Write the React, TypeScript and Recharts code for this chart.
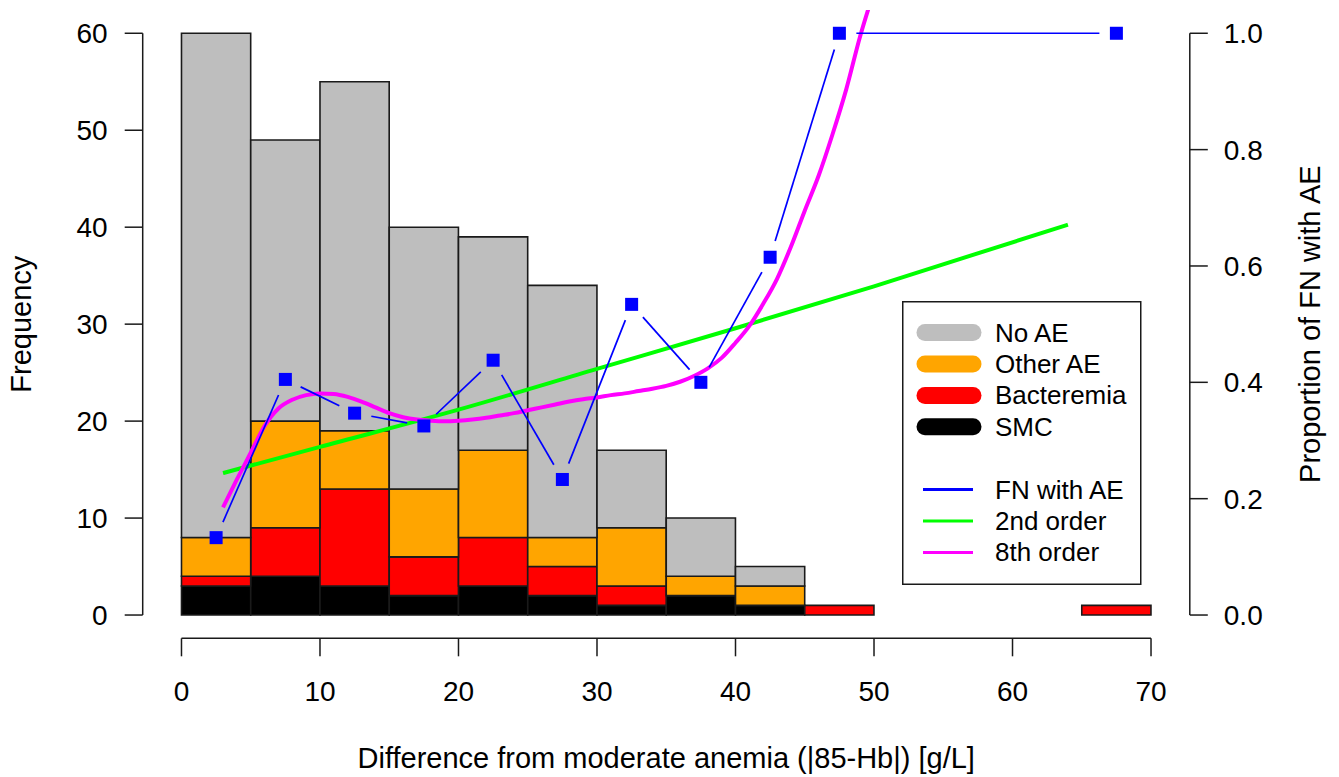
import React from "react";
import {
  Bar,
  ComposedChart,
  Label,
  Legend,
  Line,
  ReferenceLine,
  Scatter,
  XAxis,
  YAxis,
} from "recharts";

// Histogram bins are 5 g/L wide; each bin is keyed by its midpoint.
const binMids = [2.5, 7.5, 12.5, 17.5, 22.5, 27.5, 32.5, 37.5, 42.5, 47.5, 52.5, 57.5, 62.5, 67.5];
const smc = [3, 4, 3, 2, 3, 2, 1, 2, 1, 0, 0, 0, 0, 0];
const bacteremia = [1, 5, 10, 4, 5, 3, 2, 0, 0, 1, 0, 0, 0, 1];
const otherAE = [4, 11, 6, 7, 9, 3, 6, 2, 2, 0, 0, 0, 0, 0];
const noAE = [52, 29, 36, 27, 22, 26, 8, 6, 2, 0, 0, 0, 0, 0];

// Proportion of FN episodes with an adverse event, per non-empty bin.
const fnX = [2.5, 7.5, 12.5, 17.5, 22.5, 27.5, 32.5, 37.5, 42.5, 47.5, 67.5];
const fnProportion = [0.133, 0.405, 0.347, 0.325, 0.438, 0.233, 0.534, 0.4, 0.615, 1.0, 1.0];

// Fitted curves.
const quadX = [3, 10, 20, 30, 40, 50, 64];
const quadFit = [0.244, 0.289, 0.353, 0.423, 0.493, 0.565, 0.671];

const octX = [
  3, 4, 5, 6, 7, 8, 9, 10, 11, 12, 13, 14, 15, 16, 17, 18, 19, 20, 21, 22, 23, 24, 25,
  26, 27, 28, 29, 30, 31, 32, 33, 34, 35, 36, 37, 38, 39, 40, 41, 42, 43, 44, 45, 46,
  47, 48, 49, 49.7,
];
const octFit = [
  0.185, 0.233, 0.279, 0.325, 0.355, 0.37, 0.378, 0.381, 0.38, 0.375, 0.367, 0.357,
  0.347, 0.34, 0.336, 0.334, 0.333, 0.334, 0.336, 0.339, 0.343, 0.347, 0.352, 0.357,
  0.362, 0.367, 0.371, 0.374, 0.378, 0.381, 0.385, 0.389, 0.394, 0.401, 0.411, 0.424,
  0.442, 0.468, 0.497, 0.535, 0.578, 0.633, 0.695, 0.755, 0.826, 0.904, 0.995, 1.05,
];

const xTicks = [0, 10, 20, 30, 40, 50, 60, 70];
const freqTicks = [0, 10, 20, 30, 40, 50, 60];
const propTicks = [0, 0.2, 0.4, 0.6, 0.8, 1.0];

const fillNames = ["No AE", "Other AE", "Bacteremia", "SMC"];
const lineNames = ["FN with AE", "2nd order", "8th order"];

const COLORS = {
  noAE: "#bebebe",
  otherAE: "#ffa500",
  bacteremia: "#ff0000",
  smc: "#000000",
  fn: "#0000ff",
  quad: "#00ff00",
  oct: "#ff00ff",
  ink: "#1a1a1a",
};
const fillColors = [COLORS.noAE, COLORS.otherAE, COLORS.bacteremia, COLORS.smc];
const lineColors = [COLORS.fn, COLORS.quad, COLORS.oct];

const FONT = "'Liberation Sans', Arial, Helvetica, sans-serif";
const X_DOMAIN: [number, number] = [-2.8, 72.8];
const FREQ_DOMAIN: [number, number] = [-2.4, 62.4];
const PROP_DOMAIN: [number, number] = [-0.04, 1.04];
const GAP = 17; // R type="b": segments stop short of each point

const bins = binMids.map((mid, i) => ({
  mid,
  smc: smc[i],
  bacteremia: bacteremia[i],
  otherAE: otherAE[i],
  noAE: noAE[i],
}));
const fnData = fnX.map((x, i) => ({ x, y: fnProportion[i] }));
const quadData = quadX.map((x, i) => ({ x, y: quadFit[i] }));
const octData = octX.map((x, i) => ({ x, y: octFit[i] }));

function GappedLine(props: any) {
  const pts: { x: number; y: number }[] = props.points || [];
  const segs: React.ReactNode[] = [];
  for (let i = 1; i < pts.length; i++) {
    const a = pts[i - 1];
    const b = pts[i];
    const dx = b.x - a.x;
    const dy = b.y - a.y;
    const len = Math.hypot(dx, dy);
    if (len <= 2 * GAP) continue;
    const ux = dx / len;
    const uy = dy / len;
    segs.push(
      <line
        key={i}
        x1={a.x + ux * GAP}
        y1={a.y + uy * GAP}
        x2={b.x - ux * GAP}
        y2={b.y - uy * GAP}
        stroke={COLORS.fn}
        strokeWidth={1.7}
      />
    );
  }
  return <g>{segs}</g>;
}

function Square(props: any) {
  const { cx, cy } = props;
  if (cx == null || cy == null) return <g />;
  return <rect x={cx - 6.5} y={cy - 6.5} width={13} height={13} fill={COLORS.fn} />;
}

const titleStyle = { fontSize: 29, fontFamily: FONT, fill: "#000" };

function XTitle(props: any) {
  const vb = props.viewBox || { x: 142.7, y: 638.3, width: 1047.1 };
  return (
    <text x={vb.x + vb.width / 2} y={vb.y + 129.7} textAnchor="middle" style={titleStyle}>
      Difference from moderate anemia (|85-Hb|) [g/L]
    </text>
  );
}

function LeftTitle(props: any) {
  const vb = props.viewBox || { x: 0, y: 10, height: 628.3 };
  const x = vb.x + 31;
  const y = vb.y + vb.height / 2;
  return (
    <text x={x} y={y} transform={`rotate(-90 ${x} ${y})`} textAnchor="middle" style={titleStyle}>
      Frequency
    </text>
  );
}

function RightTitle(props: any) {
  const vb = props.viewBox || { x: 1189.8, y: 10, height: 628.3 };
  const x = vb.x + 130;
  const y = vb.y + vb.height / 2;
  return (
    <text x={x} y={y} transform={`rotate(-90 ${x} ${y})`} textAnchor="middle" style={titleStyle}>
      Proportion of FN with AE
    </text>
  );
}

function LegendBox() {
  const rowY = (i: number) => 31.6 + i * 31.4;
  return (
    <svg width={240} height={285} style={{ display: "block", fontFamily: FONT }}>
      <rect x={0.75} y={0.75} width={238} height={282.5} fill="#fff" stroke={COLORS.ink} strokeWidth={1.5} />
      {fillNames.map((name, i) => (
        <g key={name}>
          <line
            x1={23}
            x2={71}
            y1={rowY(i)}
            y2={rowY(i)}
            stroke={fillColors[i]}
            strokeWidth={17}
            strokeLinecap="round"
          />
          <text x={93} y={rowY(i)} dominantBaseline="central" fontSize={26} fill="#000">
            {name}
          </text>
        </g>
      ))}
      {lineNames.map((name, i) => (
        <g key={name}>
          <line
            x1={21}
            x2={71}
            y1={rowY(i + 5)}
            y2={rowY(i + 5)}
            stroke={lineColors[i]}
            strokeWidth={3}
          />
          <text x={93} y={rowY(i + 5)} dominantBaseline="central" fontSize={26} fill="#000">
            {name}
          </text>
        </g>
      ))}
    </svg>
  );
}

const tickText = { fontSize: 28, fill: "#000", fontFamily: FONT };
const tickLine = { stroke: COLORS.ink, strokeWidth: 1.5 };

export default function App() {
  return (
    <div
      style={{
        position: "absolute",
        left: 0,
        top: 0,
        width: 1339,
        height: 777,
        background: "#fff",
        fontFamily: FONT,
      }}
    >
      <ComposedChart
        width={1339}
        height={777}
        data={bins}
        margin={{ top: 10, right: 0, bottom: 0, left: 0 }}
        barGap={0}
        barCategoryGap={0}
      >
        <XAxis
          xAxisId="main"
          type="number"
          dataKey="x"
          domain={X_DOMAIN}
          allowDataOverflow
          ticks={xTicks}
          interval={0}
          height={138.7}
          axisLine={false}
          tickSize={18}
          tickMargin={25}
          tickLine={tickLine}
          tick={tickText}
        >
          <Label content={<XTitle />} />
        </XAxis>
        <XAxis
          xAxisId="bars"
          type="number"
          dataKey="mid"
          domain={X_DOMAIN}
          allowDataOverflow
          height={0}
          hide
        />
        <YAxis
          yAxisId="left"
          orientation="left"
          type="number"
          domain={FREQ_DOMAIN}
          allowDataOverflow
          ticks={freqTicks}
          interval={0}
          width={142.7}
          axisLine={false}
          tickSize={18}
          tickMargin={17}
          tickLine={tickLine}
          tick={tickText}
        >
          <Label content={<LeftTitle />} />
        </YAxis>
        <YAxis
          yAxisId="right"
          orientation="right"
          type="number"
          domain={PROP_DOMAIN}
          allowDataOverflow
          ticks={propTicks}
          interval={0}
          width={149.2}
          axisLine={false}
          tickSize={18}
          tickMargin={16}
          tickLine={tickLine}
          tick={tickText}
          tickFormatter={(v: number) => v.toFixed(1)}
        >
          <Label content={<RightTitle />} />
        </YAxis>

        <Bar xAxisId="bars" yAxisId="left" dataKey="smc" stackId="h" fill={COLORS.smc} stroke={COLORS.ink} strokeWidth={1.6} barSize={69.2} isAnimationActive={false} />
        <Bar xAxisId="bars" yAxisId="left" dataKey="bacteremia" stackId="h" fill={COLORS.bacteremia} stroke={COLORS.ink} strokeWidth={1.6} barSize={69.2} isAnimationActive={false} />
        <Bar xAxisId="bars" yAxisId="left" dataKey="otherAE" stackId="h" fill={COLORS.otherAE} stroke={COLORS.ink} strokeWidth={1.6} barSize={69.2} isAnimationActive={false} />
        <Bar xAxisId="bars" yAxisId="left" dataKey="noAE" stackId="h" fill={COLORS.noAE} stroke={COLORS.ink} strokeWidth={1.6} barSize={69.2} isAnimationActive={false} />

        <Scatter
          xAxisId="main"
          yAxisId="right"
          data={fnData}
          dataKey="y"
          shape={<Square />}
          line={GappedLine}
          isAnimationActive={false}
        />
        <Line
          xAxisId="main"
          yAxisId="right"
          data={quadData}
          dataKey="y"
          type="monotone"
          stroke={COLORS.quad}
          strokeWidth={4}
          dot={false}
          activeDot={false}
          isAnimationActive={false}
        />
        <Line
          xAxisId="main"
          yAxisId="right"
          data={octData}
          dataKey="y"
          type="monotone"
          stroke={COLORS.oct}
          strokeWidth={4}
          dot={false}
          activeDot={false}
          isAnimationActive={false}
        />

        <ReferenceLine
          xAxisId="main"
          yAxisId="left"
          segment={[{ x: X_DOMAIN[0], y: 0 }, { x: X_DOMAIN[0], y: 60 }]}
          stroke={COLORS.ink}
          strokeWidth={1.5}
          ifOverflow="visible"
        />
        <ReferenceLine
          xAxisId="main"
          yAxisId="left"
          segment={[{ x: 0, y: FREQ_DOMAIN[0] }, { x: 70, y: FREQ_DOMAIN[0] }]}
          stroke={COLORS.ink}
          strokeWidth={1.5}
          ifOverflow="visible"
        />
        <ReferenceLine
          xAxisId="main"
          yAxisId="right"
          segment={[{ x: X_DOMAIN[1], y: 0 }, { x: X_DOMAIN[1], y: 1 }]}
          stroke={COLORS.ink}
          strokeWidth={1.5}
          ifOverflow="visible"
        />

        <Legend
          layout="horizontal"
          verticalAlign="middle"
          align="center"
          wrapperStyle={{ left: 901.7, top: 300.7, width: 240, height: 285 }}
          content={() => <LegendBox />}
        />
      </ComposedChart>
    </div>
  );
}
